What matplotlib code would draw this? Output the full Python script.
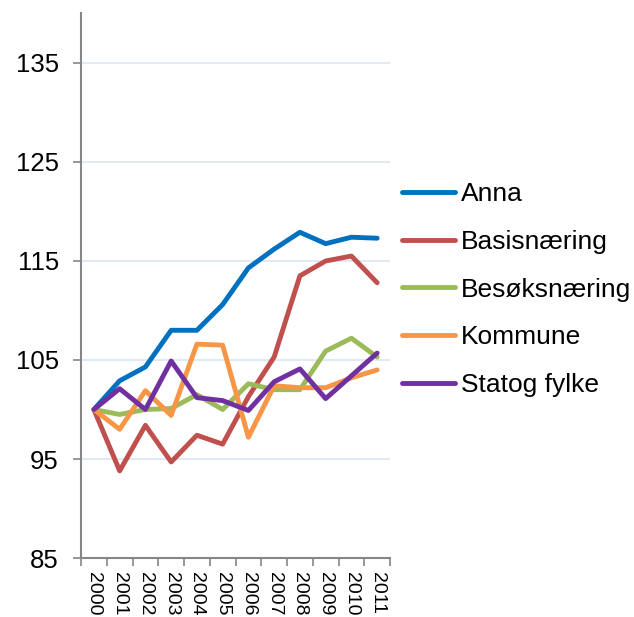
import matplotlib
matplotlib.use('Agg')
import matplotlib.pyplot as plt
import numpy as np

plt.rcParams['font.family'] = ['Liberation Sans', 'DejaVu Sans']

# index, 2000 = 100
years = ['2000', '2001', '2002', '2003', '2004', '2005',
         '2006', '2007', '2008', '2009', '2010', '2011']
anna = [100, 102.9, 104.3, 108.0, 108.0, 110.6, 114.3, 116.2, 117.9, 116.75, 117.4, 117.3]
basis = [100, 93.8, 98.4, 94.7, 97.4, 96.5, 101.3, 105.3, 113.5, 115.0, 115.5, 112.8]
besok = [100, 99.5, 100.0, 100.1, 101.5, 100.0, 102.6, 102.0, 102.0, 105.9, 107.2, 105.3]
kommune = [100, 98.0, 101.9, 99.4, 106.6, 106.5, 97.2, 102.4, 102.2, 102.2, 103.2, 104.0]
stat = [100, 102.1, 100.0, 104.9, 101.2, 100.9, 99.9, 102.8, 104.1, 101.1, 103.4, 105.7]

series = [
    ('Anna', anna, '#0070C0'),
    ('Basisnæring', basis, '#C0504D'),
    ('Besøksnæring', besok, '#9BBB59'),
    ('Kommune', kommune, '#F79646'),
    ('Statog fylke', stat, '#7030A0'),
]

fig = plt.figure(figsize=(6.34, 6.17), dpi=100)
ax = fig.add_axes([0.1278, 0.0956, 0.4874, 0.8826])

x = np.arange(len(years))
for name, vals, col in series:
    ax.plot(x, vals, color=col, lw=3.5, label=name,
            solid_joinstyle='round', solid_capstyle='round')

ax.set_xlim(-0.5, len(years) - 0.5)
ax.set_ylim(85, 140)
ax.set_yticks([85, 95, 105, 115, 125, 135])
ax.yaxis.grid(True, color='#DCE6F2', lw=1.2)
ax.set_axisbelow(True)

# tick marks between categories, labels centred under each year
ax.set_xticks(np.arange(-0.5, len(years), 1))
ax.set_xticklabels([])
ax.set_xticks(x, minor=True)
ax.set_xticklabels(years, minor=True, rotation=-90, fontsize=14)
ax.tick_params(axis='x', which='major', length=6, width=1.2, color='#868686')
ax.tick_params(axis='x', which='minor', length=0, pad=10)
ax.tick_params(axis='y', length=6, width=1.2, color='#868686', labelsize=18.5, pad=10)

for s in ['top', 'right']:
    ax.spines[s].set_visible(False)
for s in ['left', 'bottom']:
    ax.spines[s].set_color('#868686')
    ax.spines[s].set_linewidth(1.5)

fig.legend(loc='upper left', bbox_to_anchor=(0.634, 0.705), frameon=False,
           fontsize=19, handlelength=2.0, handletextpad=0.23, labelspacing=0.9,
           borderpad=0, borderaxespad=0)

fig.savefig('out.png', dpi=100)
